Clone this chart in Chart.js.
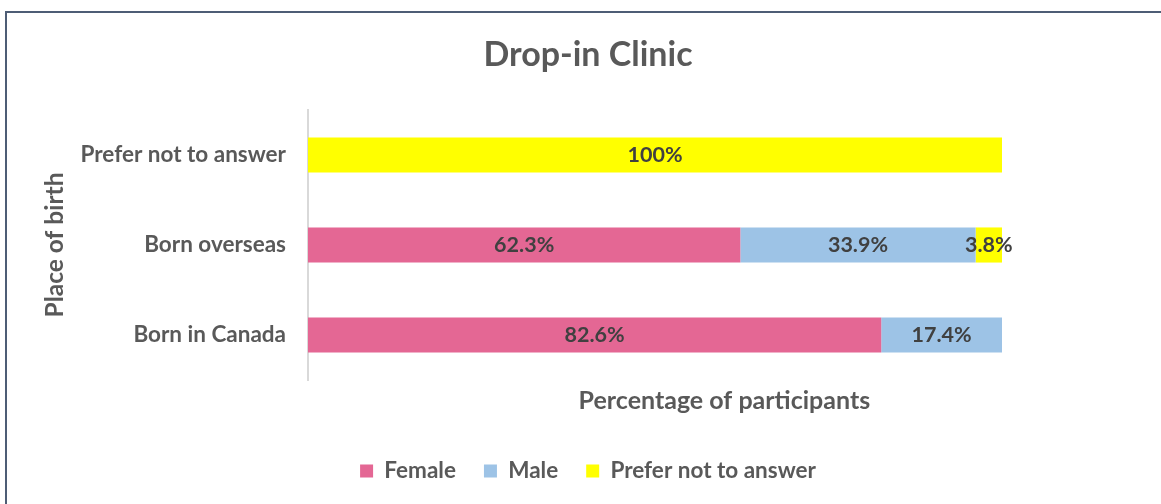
<!DOCTYPE html>
<html>
<head>
<meta charset="utf-8">
<script src="https://cdn.jsdelivr.net/npm/chart.js@4"></script>
<style>
  html, body { margin: 0; padding: 0; background: #fff; overflow: hidden; }
  #wrap { position: relative; width: 1161px; height: 504px; }
  #frame { position: absolute; left: 5px; top: 11px; width: 1200px; height: 600px;
           border: 2px solid #4E5D75; box-sizing: border-box; pointer-events: none; }
  canvas { position: absolute; left: 0; top: 0; }
</style>
</head>
<body>
<div id="wrap">
  <canvas id="chart" width="1161" height="504"></canvas>
  <div id="frame"></div>
</div>
<script>
// Chart data
const categories = ['Prefer not to answer', 'Born overseas', 'Born in Canada'];
const female = [0, 62.3, 82.6];
const male = [0, 33.9, 17.4];
const preferNot = [100, 3.8, 0];
const seriesNames = ['Female', 'Male', 'Prefer not to answer'];
const seriesColors = ['#E46794', '#9DC3E6', '#FFFF00'];

const FONT = 'Lato, "Open Sans", sans-serif';
const TEXT = '#595959';

// draws the value inside each segment, skipping empty ones
const valueLabels = {
  id: 'valueLabels',
  afterDatasetsDraw(chart) {
    const ctx = chart.ctx;
    ctx.save();
    ctx.font = 'bold 21.5px ' + FONT;
    ctx.fillStyle = '#404040';
    ctx.textAlign = 'center';
    ctx.textBaseline = 'middle';
    chart.data.datasets.forEach((ds, i) => {
      chart.getDatasetMeta(i).data.forEach((bar, j) => {
        const v = ds.data[j];
        if (!v) return;
        const text = (v === 100 ? '100' : v.toFixed(1)) + '%';
        ctx.fillText(text, (bar.x + bar.base) / 2, bar.y);
      });
    });
    ctx.restore();
  }
};

// x axis title sits right of centre in the original
const xTitle = {
  id: 'xTitle',
  afterDraw(chart) {
    const a = chart.chartArea;
    const ctx = chart.ctx;
    ctx.save();
    ctx.font = 'bold 25px ' + FONT;
    ctx.fillStyle = TEXT;
    ctx.textAlign = 'center';
    ctx.textBaseline = 'middle';
    ctx.fillText('Percentage of participants', a.left + (a.right - a.left) * 0.6, a.bottom + 21);
    ctx.restore();
  }
};

new Chart(document.getElementById('chart'), {
  type: 'bar',
  data: {
    labels: categories,
    datasets: [female, male, preferNot].map((d, i) => ({
      label: seriesNames[i],
      data: d,
      backgroundColor: seriesColors[i],
      barPercentage: 0.39,
      categoryPercentage: 1
    }))
  },
  options: {
    indexAxis: 'y',
    responsive: false,
    animation: false,
    layout: { padding: { left: 15, right: 0, top: 0, bottom: 11.75 } },
    scales: {
      x: {
        stacked: true,
        min: 0,
        max: 100,
        ticks: { display: false },
        grid: { display: false },
        border: { display: false },
        afterFit(scale) { scale.height = 51.75; }
      },
      y: {
        stacked: true,
        grid: { display: false },
        border: { display: true, color: '#D9D9D9', width: 2 },
        ticks: { color: TEXT, font: { family: FONT, size: 22.5, weight: 'bold' }, padding: 14 },
        title: {
          display: true,
          text: 'Place of birth',
          color: TEXT,
          font: { family: FONT, size: 24.5, weight: 'bold' },
          padding: { top: 25, bottom: 0 }
        },
        afterFit(scale) { scale.width = 293; }
      },
      // empty right-hand spacer so the plot ends where the original does
      spacer: {
        type: 'linear',
        position: 'right',
        ticks: { display: false },
        grid: { display: false },
        border: { display: false },
        afterFit(scale) { scale.width = 159; }
      }
    },
    plugins: {
      title: {
        display: true,
        text: 'Drop-in Clinic',
        color: TEXT,
        font: { family: FONT, size: 34, weight: 'bold' },
        padding: { top: 34.6, bottom: 34.6 }
      },
      legend: {
        position: 'bottom',
        labels: {
          color: TEXT,
          font: { family: FONT, size: 22.5, weight: 'bold' },
          boxWidth: 13,
          boxHeight: 13,
          padding: 28
        }
      },
      tooltip: { enabled: false }
    }
  },
  plugins: [valueLabels, xTitle]
});
</script>
</body>
</html>
